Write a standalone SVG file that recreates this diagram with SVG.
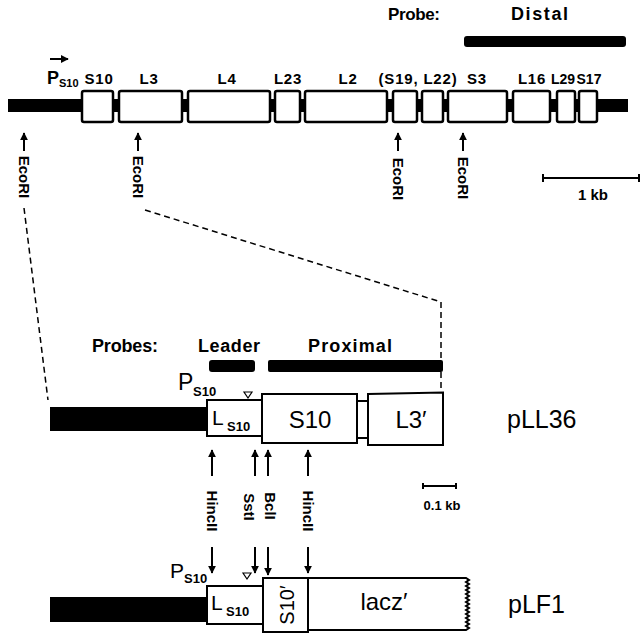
<svg xmlns="http://www.w3.org/2000/svg" width="641" height="634" viewBox="0 0 641 634">
<style>
text{font-family:"Liberation Sans",Arial,Helvetica,sans-serif;fill:#000}
.g{font-size:15px;font-weight:bold;letter-spacing:0.8px;text-anchor:middle}
.gs{font-size:14px;font-weight:bold;text-anchor:middle}
.eco{font-size:15px;font-weight:bold;text-anchor:middle}
.box{fill:#fff;stroke:#000;stroke-width:2.5}
.box2{fill:#fff;stroke:#000;stroke-width:2}
.lbl{font-size:18px;font-weight:bold}
.big{font-size:24px}
.sub{font-size:13px;font-weight:bold}
.arr{stroke:#000;stroke-width:2;fill:none}
.dash{stroke:#000;stroke-width:1.5;fill:none;stroke-dasharray:6 4}
</style>
<defs>
<marker id="ah" viewBox="0 0 10 10" refX="9" refY="5" markerWidth="4" markerHeight="4" orient="auto" markerUnits="strokeWidth">
<path d="M0,0 L10,5 L0,10 Z" fill="#000"/>
</marker>
</defs>

<g id="top-map">
<rect x="8" y="99" width="620" height="13" fill="#000"/>
<rect class="box" x="82" y="91" width="31" height="31" rx="2"/>
<rect class="box" x="119" y="91" width="63" height="31" rx="2"/>
<rect class="box" x="188" y="91" width="82" height="31" rx="2"/>
<rect class="box" x="275" y="91" width="25" height="31" rx="2"/>
<rect class="box" x="305" y="91" width="82" height="31" rx="2"/>
<rect class="box" x="393" y="91" width="24" height="31" rx="2"/>
<rect class="box" x="422" y="91" width="21" height="31" rx="2"/>
<rect class="box" x="448" y="91" width="59" height="31" rx="2"/>
<rect class="box" x="513" y="91" width="37" height="31" rx="2"/>
<rect class="box" x="557" y="91" width="18" height="31" rx="2"/>
<rect class="box" x="579" y="91" width="18" height="31" rx="2"/>
<text class="g" x="99" y="84">S10</text>
<text class="g" x="149" y="84">L3</text>
<text class="g" x="227" y="84">L4</text>
<text class="g" x="288" y="84">L23</text>
<text class="g" x="348" y="84">L2</text>
<text class="g" x="418" y="84">(S19, L22)</text>
<text class="g" x="477" y="84">S3</text>
<text class="g" x="532" y="84">L16</text>
<text class="gs" x="563" y="84">L29</text>
<text class="gs" x="589" y="84">S17</text>
</g>

<g id="top-promoter">
<text x="47" y="84" style="font-size:18px;font-weight:bold">P</text>
<text x="59" y="87" style="font-size:11px;font-weight:bold">S10</text>
<line class="arr" x1="50" y1="59" x2="68" y2="59" marker-end="url(#ah)"/>
</g>

<g id="distal-probe">
<text x="388" y="20" style="font-size:17px;font-weight:bold" textLength="52" lengthAdjust="spacing">Probe:</text>
<text x="511" y="20" style="font-size:18px;font-weight:bold" textLength="57" lengthAdjust="spacing">Distal</text>
<rect x="464" y="36" width="162" height="11" rx="3" fill="#000"/>
</g>

<g id="ecori-sites">
<line class="arr" x1="24" y1="151" x2="24" y2="133" marker-end="url(#ah)"/>
<line class="arr" x1="138" y1="151" x2="138" y2="133" marker-end="url(#ah)"/>
<line class="arr" x1="398" y1="151" x2="398" y2="133" marker-end="url(#ah)"/>
<line class="arr" x1="463" y1="151" x2="463" y2="133" marker-end="url(#ah)"/>
<text class="eco" transform="translate(24,177) rotate(90)" y="5">EcoRI</text>
<text class="eco" transform="translate(138,177) rotate(90)" y="5">EcoRI</text>
<text class="eco" transform="translate(398,179) rotate(90)" y="5">EcoRI</text>
<text class="eco" transform="translate(463,178) rotate(90)" y="5">EcoRI</text>
</g>

<g id="scale-1kb">
<line x1="543" y1="178" x2="640" y2="178" stroke="#000" stroke-width="2"/>
<line x1="543" y1="174" x2="543" y2="182" stroke="#000" stroke-width="2"/>
<line x1="639" y1="174" x2="639" y2="182" stroke="#000" stroke-width="2"/>
<text x="593" y="200" style="font-size:15px;font-weight:bold;text-anchor:middle">1 kb</text>
</g>

<g id="connectors">
<path class="dash" d="M24,208 L48,400"/>
<path class="dash" d="M145,210 L441,302 L441,392"/>
<line class="arr" x1="212" y1="476" x2="212" y2="450" marker-end="url(#ah)"/>
<line class="arr" x1="255" y1="476" x2="255" y2="450" marker-end="url(#ah)"/>
<line class="arr" x1="268" y1="476" x2="268" y2="450" marker-end="url(#ah)"/>
<line class="arr" x1="308" y1="476" x2="308" y2="450" marker-end="url(#ah)"/>
<line class="arr" x1="212" y1="547" x2="212" y2="573" marker-end="url(#ah)"/>
<line class="arr" x1="255" y1="547" x2="255" y2="573" marker-end="url(#ah)"/>
<line class="arr" x1="268" y1="547" x2="268" y2="575" marker-end="url(#ah)"/>
<line class="arr" x1="308" y1="547" x2="308" y2="573" marker-end="url(#ah)"/>
</g>

<g id="site-labels">
<text class="eco" transform="translate(212,511) rotate(90)" y="5">HincII</text>
<text class="eco" transform="translate(249,507) rotate(90)" y="5">SstI</text>
<text class="eco" transform="translate(270,506) rotate(90)" y="5">BclI</text>
<text class="eco" transform="translate(308,511) rotate(90)" y="5">HincII</text>
</g>

<g id="probes-lower">
<text x="92" y="352" class="lbl" textLength="66" lengthAdjust="spacing">Probes:</text>
<text x="198" y="352" class="lbl" textLength="62" lengthAdjust="spacing">Leader</text>
<text x="308" y="352" class="lbl" textLength="84" lengthAdjust="spacing">Proximal</text>
<rect x="209" y="360" width="46" height="12" rx="3" fill="#000"/>
<rect x="268" y="360" width="175" height="12" rx="2" fill="#000"/>
</g>

<g id="pLL36">
<rect x="50" y="407" width="158" height="24" fill="#000"/>
<rect class="box2" x="207" y="400" width="55" height="36"/>
<rect class="box2" x="357" y="401" width="11" height="37"/>
<rect class="box2" x="262" y="394" width="95" height="49"/>
<path class="box2" d="M368,394 L443,392.5 L443,445 L368,445 Z"/>
<text x="178" y="390" style="font-size:23px">P</text>
<text x="193" y="396" class="sub">S10</text>
<path d="M244,392 L252,392 L248,398 Z" fill="#fff" stroke="#000" stroke-width="1.2"/>
<text x="212" y="425" style="font-size:21px">L</text>
<text x="227" y="431" class="sub">S10</text>
<text x="310" y="428" class="big" style="text-anchor:middle">S10</text>
<text x="411" y="428" class="big" style="text-anchor:middle">L3′</text>
<text x="507" y="428" style="font-size:25px">pLL36</text>
</g>

<g id="scale-01kb">
<line x1="423" y1="486" x2="456" y2="486" stroke="#000" stroke-width="2"/>
<line x1="423" y1="483" x2="423" y2="489" stroke="#000" stroke-width="2"/>
<line x1="456" y1="483" x2="456" y2="489" stroke="#000" stroke-width="2"/>
<text x="442" y="510" style="font-size:13px;font-weight:bold;text-anchor:middle">0.1 kb</text>
</g>

<g id="pLF1">
<rect x="50" y="597" width="158" height="25" fill="#000"/>
<rect class="box2" x="207" y="586" width="56" height="38"/>
<rect class="box2" x="263" y="578" width="45" height="54"/>
<path class="box2" d="M308,578 L466,578 L469,580 L466,582 L469,584 L466,586 L469,588 L466,590 L469,592 L466,594 L469,596 L466,598 L469,600 L466,602 L469,604 L466,606 L469,608 L466,610 L469,612 L466,614 L469,616 L466,618 L469,620 L466,622 L469,624 L466,626 L469,628 L466,630 L308,630 Z"/>
<text x="170" y="578" style="font-size:21px">P</text>
<text x="184" y="583" class="sub">S10</text>
<path d="M243,573 L251,573 L247,579 Z" fill="#fff" stroke="#000" stroke-width="1.2"/>
<text x="211" y="610" style="font-size:21px">L</text>
<text x="226" y="616" class="sub">S10</text>
<text transform="translate(287,605) rotate(-90)" y="7" style="font-size:20px;text-anchor:middle">S10′</text>
<text x="384" y="610" class="big" style="text-anchor:middle">lacz′</text>
<text x="508" y="613" style="font-size:25px">pLF1</text>
</g>
</svg>
